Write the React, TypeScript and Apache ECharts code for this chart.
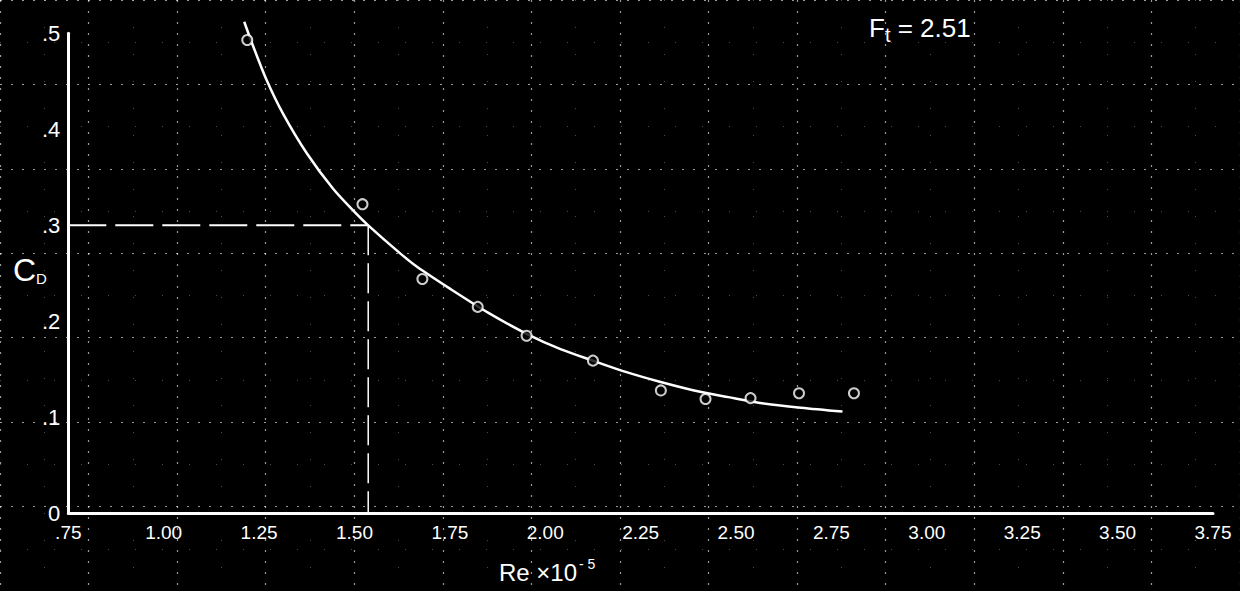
import React, { useEffect, useRef } from "react";
import * as echarts from "echarts";

// Measured points (Re x 10^-5, C_D)
const pointRe = [1.219, 1.521, 1.678, 1.823, 1.951, 2.125, 2.303, 2.42, 2.538, 2.665, 2.809];
const pointCd = [0.493, 0.322, 0.244, 0.215, 0.185, 0.159, 0.128, 0.119, 0.12, 0.125, 0.125];

// Faired curve
const curveRe = [1.211, 1.235, 1.27, 1.313, 1.375, 1.444, 1.5, 1.536, 1.619, 1.663, 1.75, 1.85, 1.951, 2.04, 2.125, 2.213, 2.3, 2.39, 2.48, 2.563, 2.67, 2.779];
const curveCd = [0.512, 0.486, 0.451, 0.416, 0.375, 0.338, 0.314, 0.3, 0.271, 0.257, 0.234, 0.209, 0.187, 0.171, 0.159, 0.147, 0.137, 0.128, 0.121, 0.115, 0.11, 0.106];

// Reference (dashed) construction at C_D = 0.3
const refRe = [0.75, 1.536, 1.536];
const refCd = [0.3, 0.3, 0];

const xTickLabels = [".75", "1.00", "1.25", "1.50", "1.75", "2.00", "2.25", "2.50", "2.75", "3.00", "3.25", "3.50", "3.75"];
const yTickLabels = ["0", ".1", ".2", ".3", ".4", ".5"];

const FONT = "Liberation Sans";

export default function App() {
  const ref = useRef<HTMLDivElement>(null);
  useEffect(() => {
    if (!ref.current) return;
    const chart = echarts.init(ref.current, null, { renderer: "svg" });
    const pts = pointRe.map((x, i) => [x, pointCd[i]]);
    const curve = curveRe.map((x, i) => [x, curveCd[i]]);
    const refH = [[refRe[0], refCd[0]], [refRe[1], refCd[1]]];
    const refV = [[refRe[1], refCd[1]], [refRe[2], refCd[2]]];
    const majorLine = { show: true, lineStyle: { color: "rgba(255,255,255,0.6)", width: 1.2, type: [2, 9] } };
    const minorLine = { show: true, lineStyle: { color: "rgba(255,255,255,0.3)", width: 1, type: [1, 26] } };
    const option: any = {
      animation: false,
      backgroundColor: "#000",
      title: [
        {
          left: 864,
          top: 6,
          text: "{f|F}{t|t}{f| = 2.51}",
          textStyle: {
            rich: {
              f: { fontFamily: FONT, fontSize: 26, color: "#fff", fontWeight: "normal" },
              t: { fontFamily: FONT, fontSize: 20, color: "#fff", fontWeight: "normal", padding: [14, 0, 0, 0] },
            },
          },
        },
        {
          left: 8,
          top: 248,
          text: "{c|C}{d|D}",
          textStyle: {
            rich: {
              c: { fontFamily: FONT, fontSize: 32, color: "#fff", fontWeight: "normal" },
              d: { fontFamily: FONT, fontSize: 15, color: "#fff", fontWeight: "normal", padding: [18, 0, 0, 0] },
            },
          },
        },
        {
          left: 494,
          top: 552,
          text: "{a|Re ×10}{s|- 5}",
          textStyle: {
            rich: {
              a: { fontFamily: FONT, fontSize: 24, color: "#fff", fontWeight: "normal" },
              s: { fontFamily: FONT, fontSize: 14, color: "#fff", fontWeight: "normal", padding: [0, 0, 16, 2] },
            },
          },
        },
      ],
      grid: [
        { left: 68.3, right: 27, top: 33.3, bottom: 77.7 },
        { left: -27.1, right: -68.4, top: -62.7, bottom: -18.3 },
      ],
      xAxis: [
        {
          type: "value",
          gridIndex: 0,
          min: 0.75,
          max: 3.75,
          interval: 0.25,
          axisLine: { show: true, onZero: false, lineStyle: { color: "#fff", width: 3 } },
          axisTick: { show: false },
          splitLine: { show: false },
          axisLabel: {
            color: "#fff",
            fontFamily: FONT,
            fontSize: 19,
            margin: 10,
            formatter: (v: number) => xTickLabels[Math.round((v - 0.75) / 0.25)] ?? "",
          },
        },
        {
          type: "value",
          gridIndex: 1,
          min: 0.5,
          max: 4.0,
          interval: 0.25,
          axisLine: { show: false },
          axisTick: { show: false },
          axisLabel: { show: false },
          splitLine: majorLine,
          minorTick: { show: false, splitNumber: 2 },
          minorSplitLine: minorLine,
        },
      ],
      yAxis: [
        {
          type: "value",
          gridIndex: 0,
          min: 0,
          max: 0.5,
          interval: 0.1,
          axisLine: { show: true, onZero: false, lineStyle: { color: "#fff", width: 3 } },
          axisTick: { show: false },
          splitLine: { show: false },
          axisLabel: {
            color: "#fff",
            fontFamily: FONT,
            fontSize: 22,
            margin: 8,
            formatter: (v: number) => yTickLabels[Math.round(v / 0.1)] ?? "",
          },
        },
        {
          type: "value",
          gridIndex: 1,
          min: -0.1,
          max: 0.6,
          interval: 0.1,
          axisLine: { show: false },
          axisTick: { show: false },
          axisLabel: { show: false },
          splitLine: majorLine,
          minorTick: { show: false, splitNumber: 2 },
          minorSplitLine: minorLine,
        },
      ],
      series: [
        {
          type: "line",
          xAxisIndex: 0,
          yAxisIndex: 0,
          data: refH,
          showSymbol: false,
          symbol: "none",
          lineStyle: { color: "#fff", width: 2, type: [38, 9] },
          z: 3,
        },
        {
          type: "line",
          xAxisIndex: 0,
          yAxisIndex: 0,
          data: refV,
          showSymbol: false,
          symbol: "none",
          lineStyle: { color: "#fff", width: 1.5, type: [30, 8] },
          z: 3,
        },
        {
          type: "line",
          xAxisIndex: 0,
          yAxisIndex: 0,
          data: curve,
          smooth: 0.3,
          showSymbol: false,
          symbol: "none",
          clip: false,
          lineStyle: { color: "#fff", width: 2.5 },
          z: 4,
        },
        {
          type: "scatter",
          xAxisIndex: 0,
          yAxisIndex: 0,
          data: pts,
          symbol: "circle",
          symbolSize: 10,
          itemStyle: { color: "#000", borderColor: "#fff", borderWidth: 2 },
          z: 5,
        },
      ],
    };
    chart.setOption(option);
    return () => chart.dispose();
  }, []);
  return (
    <div
      ref={ref}
      style={{ position: "fixed", left: 0, top: 0, width: 1240, height: 591, background: "#000" }}
    />
  );
}
